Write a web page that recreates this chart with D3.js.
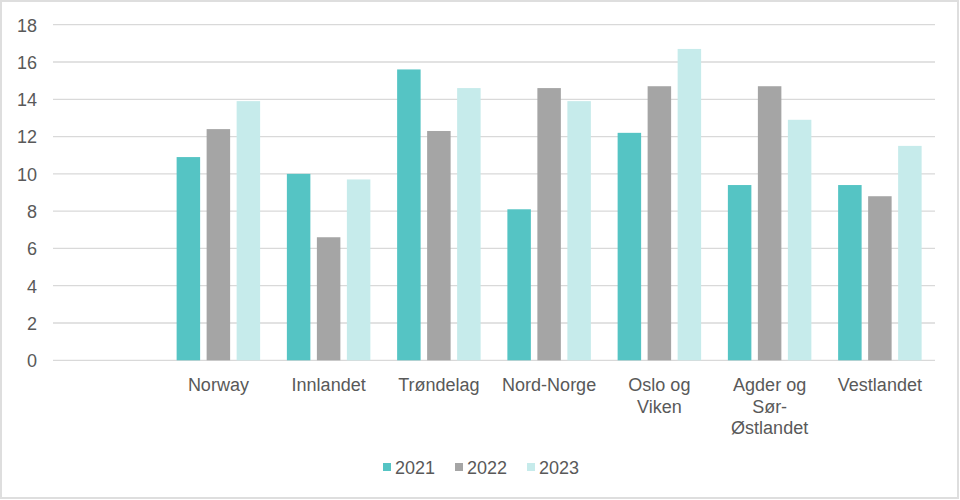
<!DOCTYPE html>
<html>
<head>
<meta charset="utf-8">
<script src="https://cdn.jsdelivr.net/npm/d3@7"></script>
<style>
  html, body { margin: 0; padding: 0; background: #fff; }
  svg { display: block; }
  text { font-family: "Liberation Sans", Arial, sans-serif; fill: #595959; }
</style>
</head>
<body>
<svg id="chart" width="960" height="500"></svg>
<script>
const categories = ["", "Norway", "Innlandet", "Trøndelag", "Nord-Norge", "Oslo og Viken", "Agder og Sør-Østlandet", "Vestlandet"];
const categoryLines = [[], ["Norway"], ["Innlandet"], ["Trøndelag"], ["Nord-Norge"], ["Oslo og", "Viken"], ["Agder og", "Sør-", "Østlandet"], ["Vestlandet"]];
const seriesNames = ["2021", "2022", "2023"];
const values2021 = [null, 10.9, 10.0, 15.6, 8.1, 12.2, 9.4, 9.4];
const values2022 = [null, 12.4, 6.6, 12.3, 14.6, 14.7, 14.7, 8.8];
const values2023 = [null, 13.9, 9.7, 14.6, 13.9, 16.7, 12.9, 11.5];
const yTicks = [0, 2, 4, 6, 8, 10, 12, 14, 16, 18];
const colors = ["#55c4c4", "#a5a5a5", "#c6ebeb"];

const allSeries = [values2021, values2022, values2023];
const svg = d3.select("#chart");

// outer border
svg.append("rect").attr("x", 1).attr("y", 1).attr("width", 957).attr("height", 497)
  .attr("fill", "none").attr("stroke", "#dedede").attr("stroke-width", 2);

const pLeft = 53, pRight = 935, pTop = 24.7, pBottom = 360.3;

const x = d3.scaleBand().domain(d3.range(categories.length)).range([pLeft, pRight]).paddingInner(0).paddingOuter(0);
const y = d3.scaleLinear().domain([0, 18]).range([pBottom, pTop]);

const barW = 23.5, barStep = 30;
const xs = d3.scaleBand().domain(seriesNames).range([0, barStep * 3 - (barStep - barW)]).paddingInner((barStep - barW) / barStep);

// gridlines
svg.append("g").selectAll("line").data(yTicks).join("line")
  .attr("x1", pLeft).attr("x2", pRight)
  .attr("y1", d => y(d)).attr("y2", d => y(d))
  .attr("stroke", "#d9d9d9").attr("stroke-width", 1.3);

// y axis labels
const yAxis = d3.axisLeft(y).tickValues(yTicks).tickSize(0).tickPadding(0);
const yg = svg.append("g").attr("transform", `translate(${37},0)`).call(yAxis);
yg.select(".domain").remove();
yg.selectAll("text").attr("font-size", "18px").attr("fill", "#595959")
  .style("font-family", "'Liberation Sans', Arial, sans-serif").attr("dy", "0.35em");

// bars
const groupW = xs.range()[1];
const groups = svg.append("g").selectAll("g").data(categories.map((c, i) => i)).join("g")
  .attr("transform", i => `translate(${x(i) + (x.bandwidth() - groupW) / 2},0)`);
groups.selectAll("rect").data(i => allSeries.map((s, k) => ({ k, v: s[i] })).filter(d => d.v != null))
  .join("rect")
  .attr("x", d => xs(seriesNames[d.k]))
  .attr("width", xs.bandwidth())
  .attr("y", d => y(d.v))
  .attr("height", d => y(0) - y(d.v))
  .attr("fill", d => colors[d.k]);

// x category labels
const xl = svg.append("g").selectAll("text").data(categoryLines.map((l, i) => ({ l, i }))).join("text")
  .attr("text-anchor", "middle")
  .attr("font-size", "18px")
  .attr("transform", d => `translate(${x(d.i) + x.bandwidth() / 2},391)`);
xl.selectAll("tspan").data(d => d.l).join("tspan")
  .attr("x", 0).attr("dy", (d, j) => j === 0 ? 0 : 21.7).text(d => d);

// legend
const lg = svg.append("g");
lg.selectAll("rect").data(seriesNames).join("rect")
  .attr("x", (d, i) => 383 + i * 72).attr("y", 463).attr("width", 8).attr("height", 8)
  .attr("fill", (d, i) => colors[i]);
lg.selectAll("text").data(seriesNames).join("text")
  .attr("x", (d, i) => 395 + i * 72).attr("y", 474)
  .attr("font-size", "18px").text(d => d);
</script>
</body>
</html>
